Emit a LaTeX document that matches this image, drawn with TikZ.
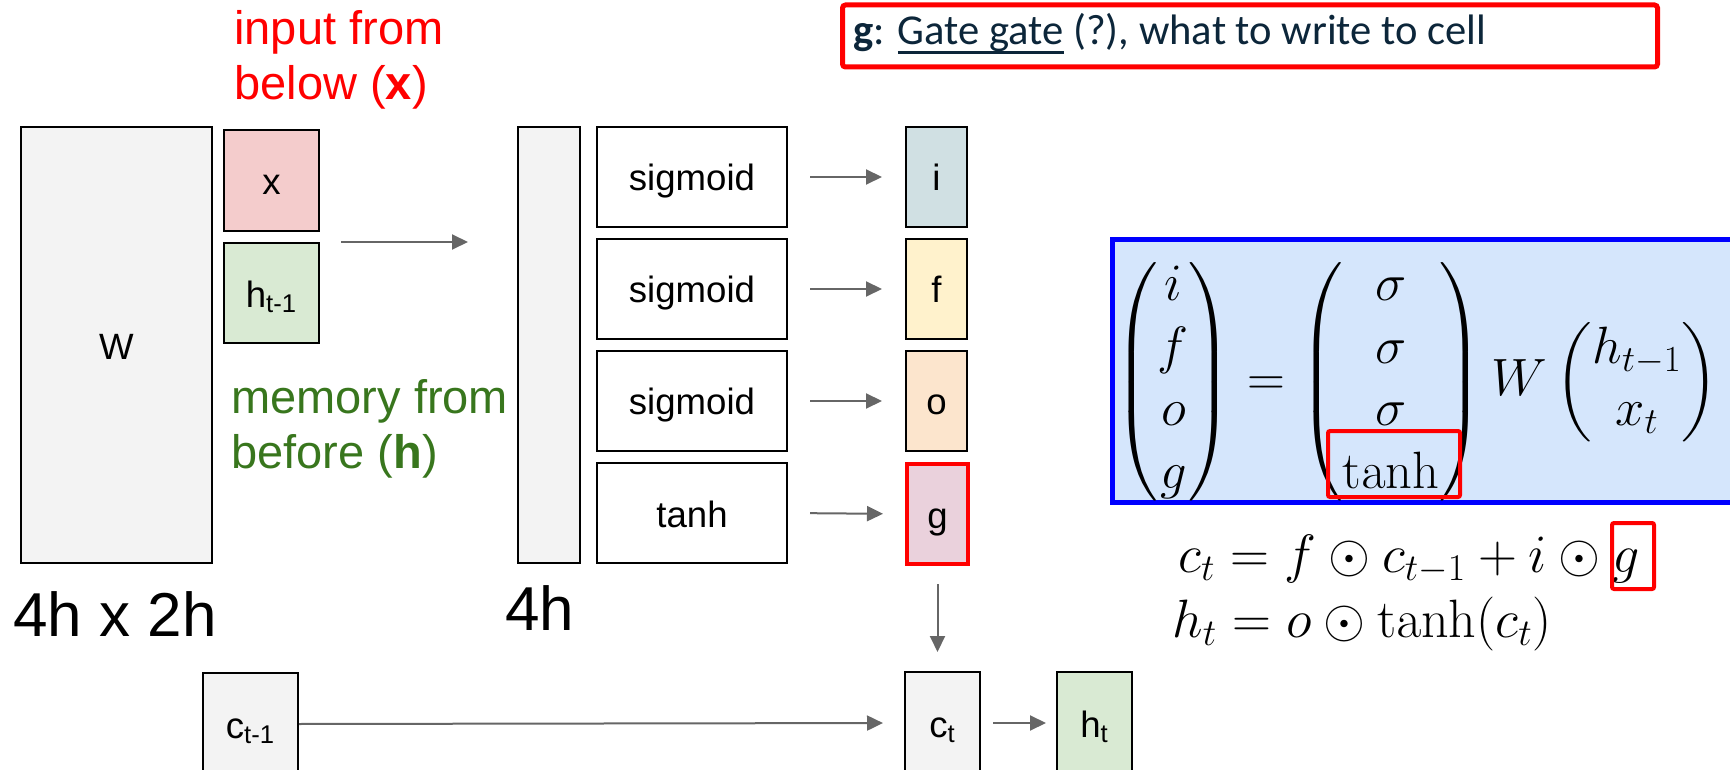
\RequirePackage{fix-cm}
\documentclass[tikz,border=0pt]{standalone}
\usepackage{amsmath}
\usepackage[no-math]{fontspec}
\usetikzlibrary{arrows.meta}
\newfontfamily\arialf{Liberation Sans}
\newfontfamily\calibrif{Carlito}
\definecolor{boxgrey}{HTML}{F3F3F3}
\definecolor{xred}{HTML}{F4CCCC}
\definecolor{hgreen}{HTML}{D9EAD3}
\definecolor{icyan}{HTML}{D0E0E3}
\definecolor{fyellow}{HTML}{FFF2CC}
\definecolor{oorange}{HTML}{FCE5CD}
\definecolor{gmagenta}{HTML}{EAD1DC}
\definecolor{darkgreen}{HTML}{38761D}
\definecolor{arrowgrey}{HTML}{666666}
\definecolor{navy}{HTML}{0C263A}
\definecolor{lightblue}{HTML}{D5E6FC}
\newcommand\myul[1]{\setbox0\hbox{#1}\rlap{\rule[-0.2em]{\wd0}{0.07em}}\box0\relax}
\tikzset{
  box/.style={draw=black, line width=1pt, anchor=north west, inner sep=0pt,
    text height=14pt, text depth=0pt,
    font=\arialf\fontsize{18.3}{21}\selectfont},
  arr/.style={draw=arrowgrey, line width=1pt, -{Triangle[length=8pt,width=7.5pt]}},
  lbl/.style={anchor=base west, inner sep=0pt, font=\arialf\fontsize{23.5}{27}\selectfont},
  dimlbl/.style={anchor=base west, inner sep=0pt, font=\arialf\fontsize{31}{36}\selectfont},
  hilite/.style={draw=red, line width=2pt, anchor=north west, inner sep=0pt, rounded corners=1pt},
}
\begin{document}
\begin{tikzpicture}[x=0.5pt,y=-0.5pt]
\useasboundingbox (0,0) rectangle (1730,770);
% left part
\node[box, fill=boxgrey, minimum width=95.5pt, minimum height=218pt] (W) at (20,126) {W};
\node[box, fill=xred, minimum width=47.5pt, minimum height=50.5pt] (x) at (223,129) {x};
\node[box, fill=hgreen, minimum width=47.5pt, minimum height=50pt] (h) at (223,242) {h\textsubscript{t-1}};
\node[box, fill=boxgrey, minimum width=31pt, minimum height=218pt] (bar) at (517,126) {};
\draw[arr, shorten <=10.5pt, shorten >=24.5pt] (h.north east) -- (bar.west |- h.north);
% activation boxes
\node[box, minimum width=95pt, minimum height=50pt] (s1) at (596,126) {sigmoid};
\node[box, minimum width=95pt, minimum height=50pt] (s2) at (596,238) {sigmoid};
\node[box, minimum width=95pt, minimum height=50pt] (s3) at (596,350) {sigmoid};
\node[box, minimum width=95pt, minimum height=50pt] (s4) at (596,462) {tanh};
% gate boxes
\node[box, fill=icyan, minimum width=30.5pt, minimum height=50pt] (gi) at (905,126) {i};
\node[box, fill=fyellow, minimum width=30.5pt, minimum height=50pt] (gf) at (905,238) {f};
\node[box, fill=oorange, minimum width=30.5pt, minimum height=50pt] (go) at (905,350) {o};
\node[box, fill=gmagenta, draw=red, line width=2pt, minimum width=30.5pt, minimum height=50pt] (gg) at (905,462) {g};
\draw[arr, shorten <=11pt, shorten >=11.5pt] (s1.east) -- (gi.west);
\draw[arr, shorten <=11pt, shorten >=11.5pt] (s2.east) -- (gf.west);
\draw[arr, shorten <=11pt, shorten >=11.5pt] (s3.east) -- (go.west);
\draw[arr, shorten <=11pt, shorten >=11pt] (s4.east) -- (gg.west);
% bottom row
\node[box, fill=boxgrey, minimum width=47.5pt, minimum height=51pt] (cm) at (202,672) {c\textsubscript{t-1}};
\node[box, fill=boxgrey, minimum width=37.5pt, minimum height=51pt] (ct) at (904,671) {c\textsubscript{t}};
\node[box, fill=hgreen, minimum width=37.5pt, minimum height=51pt] (ht) at (1056,671) {h\textsubscript{t}};
\draw[arr, shorten <=9pt, shorten >=9.5pt] (gg.south) -- (gg.south |- ct.north);
\draw[arr, shorten >=10.5pt] (cm.east) -- (ct.west);
\draw[arr, shorten <=6pt, shorten >=5pt] (ct.east) -- (ht.west);
% labels
\node[lbl, text=red] (in1) at (234,45) {input from};
\node[lbl, text=red] (in2) at (234,100) {below (\textbf{x})};
\node[lbl, text=darkgreen] (mem1) at (231,413) {memory from};
\node[lbl, text=darkgreen] (mem2) at (231,468) {before (\textbf{h})};
\node[dimlbl] (dimW) at (13,636) {4h x 2h};
\node[dimlbl] (dimb) at (505,630) {4h};
% title box
\node[draw=red, line width=2.5pt, rounded corners=1.5pt, fill=white, anchor=north west,
  minimum width=407.5pt, minimum height=31pt, inner sep=0pt] (tbox) at (840,2.5) {};
\node[anchor=base west, inner sep=0pt, text=navy, font=\calibrif\fontsize{21.3}{25}\selectfont]
  (ttext) at (853,45) {\textbf{g}: \myul{Gate gate} (?), what to write to cell};
% equation box
\node[draw=blue, line width=2.5pt, fill=lightblue, anchor=north west,
  minimum width=325pt, minimum height=131.5pt, inner sep=0pt] (bbox) at (1110,237) {};
\node[anchor=west, inner sep=0pt, font=\fontsize{26.25}{31.2}\selectfont] (eq1) at (1114,382)
  {\delimiterfactor=880 \delimitershortfall=20pt $\displaystyle \begin{pmatrix} i\\ f\\ o\\ g\end{pmatrix} = \begin{pmatrix}\sigma\\ \sigma\\ \sigma\\ \tanh\end{pmatrix} W \begin{pmatrix} h_{t-1}\\ x_t\end{pmatrix}$};
\node[hilite, minimum width=66pt, minimum height=33pt] (tanhbox) at (1326,429) {};
\node[anchor=base west, inner sep=0pt, font=\fontsize{27}{32}\selectfont] (eq2) at (1178,572)
  {$c_t = f\odot c_{t-1} + i\odot g$};
\node[anchor=base west, inner sep=0pt, font=\fontsize{27}{32}\selectfont] (eq3) at (1172,637)
  {$h_t = o\odot \tanh(c_t)$};
\node[hilite, minimum width=21pt, minimum height=33pt] (gbox) at (1610,521) {};
\end{tikzpicture}
\end{document}
